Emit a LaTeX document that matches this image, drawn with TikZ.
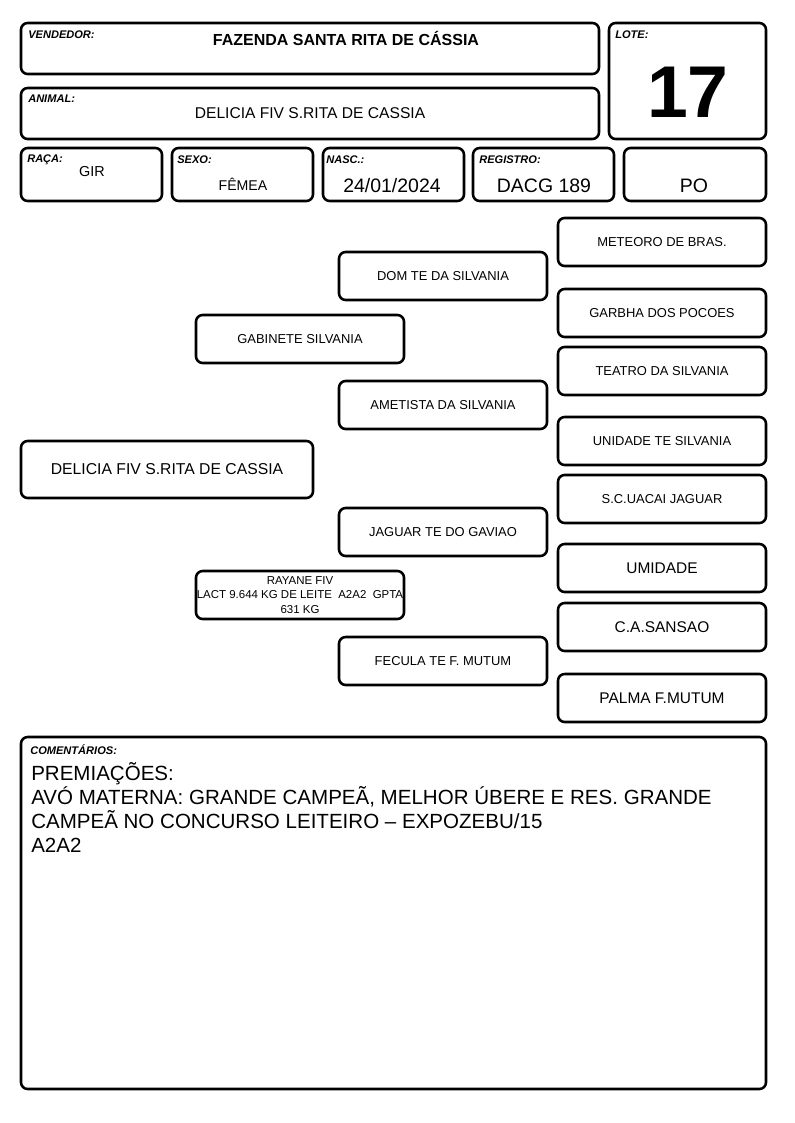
\documentclass[tikz,border=0pt]{standalone}
\usepackage{fontspec}
\setmainfont{Liberation Sans}
\begin{document}
\begin{tikzpicture}[x=0.75pt,y=-0.75pt,
   box/.style={draw, line width=1.9pt, rounded corners=5pt, inner sep=0pt},
   tag/.style={font=\bfseries\itshape\fontsize{8.3}{9}\selectfont, anchor=north west, inner sep=0pt},
   ped/.style={box, minimum width=156pt, minimum height=36pt, font=\fontsize{9.7}{11}\selectfont}
]
\useasboundingbox (0,0) rectangle (794,1123);
% header
\node[box, minimum width=433.5pt, minimum height=38.25pt] (vendedor) at (310,48.5) {};
\node[box, minimum width=117.75pt, minimum height=87pt] (lote) at (687.5,81) {};
\node[box, minimum width=433.5pt, minimum height=38.25pt] (animal) at (310,113.5) {};
\node[box, minimum width=105.75pt, minimum height=39.75pt] (raca) at (91.5,174.5) {};
\node[box, minimum width=105.75pt, minimum height=39.75pt] (sexo) at (242.5,174.5) {};
\node[box, minimum width=105.75pt, minimum height=39.75pt] (nasc) at (393.5,174.5) {};
\node[box, minimum width=105.75pt, minimum height=39.75pt] (registro) at (543.5,174.5) {};
\node[box, minimum width=106.5pt, minimum height=39.75pt] (po) at (695,174.5) {};
\node[tag] (vendedorlbl) at (28,31) {VENDEDOR:};
\node[tag] (lotelbl) at (615,31) {LOTE:};
\node[tag] (animallbl) at (28,95) {ANIMAL:};
\node[tag] (racalbl) at (27,155) {RAÇA:};
\node[tag] (sexolbl) at (177,156) {SEXO:};
\node[tag] (nasclbl) at (326,156) {NASC.:};
\node[tag] (registrolbl) at (479,156) {REGISTRO:};
\node[font=\bfseries\fontsize{12}{13}\selectfont] (vendedortxt) at (346,38) {FAZENDA SANTA RITA DE CÁSSIA};
\node[font=\bfseries\fontsize{55}{60}\selectfont] (lotetxt) at (688,92) {17};
\node[font=\fontsize{11.7}{13}\selectfont] (animaltxt) at (310,113) {DELICIA FIV S.RITA DE CASSIA};
\node[font=\fontsize{10.8}{12}\selectfont] (racatxt) at (92,172) {GIR};
\node[font=\fontsize{10.6}{12}\selectfont] (sexotxt) at (243,184) {FÊMEA};
\node[font=\fontsize{14.6}{16}\selectfont] (nasctxt) at (392,186) {24/01/2024};
\node[font=\fontsize{14.6}{16}\selectfont] (registrotxt) at (544,186) {DACG 189};
\node[font=\fontsize{14.6}{16}\selectfont] (potxt) at (694,186) {PO};
% pedigree
\node[box, minimum width=219pt, minimum height=42.75pt, font=\fontsize{11.8}{13}\selectfont] (delicia) at (167,469.5) {DELICIA FIV S.RITA DE CASSIA};
\node[ped] (gabinete) at (300,339) {GABINETE SILVANIA};
\node[ped, font=\fontsize{8.6}{11}\selectfont, align=center] (rayane) at (300,595) {RAYANE FIV\\LACT 9.644 KG DE LEITE\ \ A2A2\ \ GPTA\\631 KG};
\node[ped] (dom) at (443,276) {DOM TE DA SILVANIA};
\node[ped] (ametista) at (443,405) {AMETISTA DA SILVANIA};
\node[ped] (jaguar) at (443,532) {JAGUAR TE DO GAVIAO};
\node[ped] (fecula) at (443,661) {FECULA TE F. MUTUM};
\node[ped] (meteoro) at (662,242) {METEORO DE BRAS.};
\node[ped] (garbha) at (662,313) {GARBHA DOS POCOES};
\node[ped] (teatro) at (662,371) {TEATRO DA SILVANIA};
\node[ped] (unidade) at (662,441) {UNIDADE TE SILVANIA};
\node[ped] (uacai) at (662,499) {S.C.UACAI JAGUAR};
\node[ped, font=\fontsize{11.6}{13}\selectfont] (umidade) at (662,568) {UMIDADE};
\node[ped, font=\fontsize{11.6}{13}\selectfont] (sansao) at (662,627) {C.A.SANSAO};
\node[ped, font=\fontsize{11.6}{13}\selectfont] (palma) at (662,698) {PALMA F.MUTUM};
% comments
\node[box, minimum width=558.75pt, minimum height=264pt] (comentarios) at (393.5,913) {};
\node[tag] (comentarioslbl) at (30,744) {COMENTÁRIOS:};
\node[anchor=north west, inner sep=0pt, align=left, font=\fontsize{15.4}{18}\selectfont] (comentariostxt) at (31,762) {PREMIAÇÕES:\\AVÓ MATERNA: GRANDE CAMPEÃ, MELHOR ÚBERE E RES. GRANDE\\CAMPEÃ NO CONCURSO LEITEIRO – EXPOZEBU/15\\A2A2};
\end{tikzpicture}
\end{document}
